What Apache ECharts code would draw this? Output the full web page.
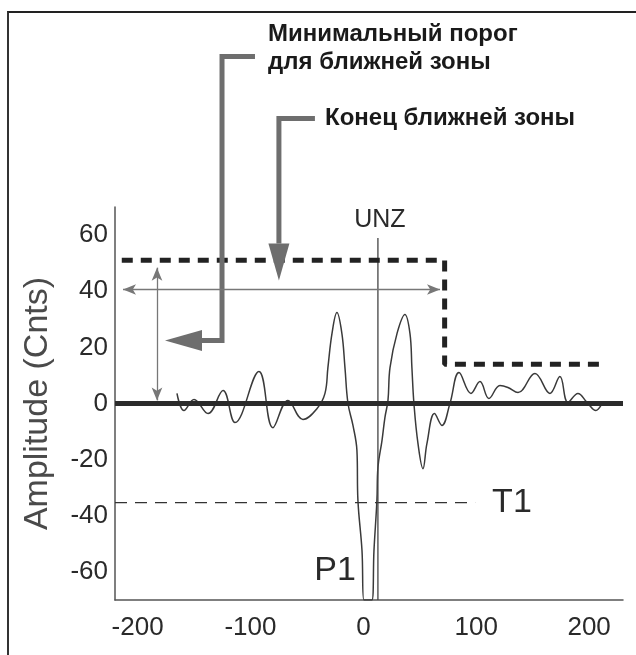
<!DOCTYPE html>
<html>
<head>
<meta charset="utf-8">
<script src="https://cdn.jsdelivr.net/npm/echarts@6/dist/echarts.min.js"></script>
<style>
    html, body { margin: 0; padding: 0; background: #fff; }
    #wrap { position: relative; width: 636px; height: 655px; overflow: hidden; }
    #frame { position: absolute; left: 7px; top: 11px; width: 700px; height: 700px;
             border-top: 2px solid #222; border-left: 2px solid #333; }
    #amplitude-chart { position: absolute; left: 0; top: 0; width: 636px; height: 655px; }
</style>
</head>
<body>
<div id="wrap">
    <div id="frame"></div>
    <div id="amplitude-chart"></div>
</div>
<script>
// tick labels
var xTicks = [-200, -100, 0, 100, 200];
var yTicks = [-60, -40, -20, 0, 20, 40, 60];

// echo signal
var waveX = [-165.1, -158.9, -150.0, -137.6, -124.3, -113.7, -92.5, -80.1, -66.8, -53.5, -41.0, -34.0,
    -31.4, -27.8, -23.4, -19.0, -16.3, -13.6, -9.2, -5.7, -4.8, -1.2, 0.5, 7.6, 9.4, 12.0, 12.9, 16.5,
    19.1, 21.8, 23.6, 29.8, 36.8, 41.3, 43.0, 44.8, 48.4, 52.8, 56.3, 63.0, 69.6, 76.7, 84.7, 95.3,
    103.3, 111.2, 121.0, 128.1, 137.0, 152.0, 165.3, 174.1, 181.2, 190.1, 198.1, 206.0, 210.5];
var waveY = [3.6, -2.5, 1.4, -3.6, 4.6, -6.8, 11.4, -8.6, 1.1, -5.7, -1.8, 3.6,
    12.8, 24.9, 32.4, 24.9, 12.8, 0, -7.8, -16.7, -34.6, -52.4, -70, -70, -52.4, -34.6, -22.8, -13.2,
    -5.0, 1.1, 12.8, 24.9, 31.7, 24.9, 12.8, 0, -14.3, -23.2, -14.3, -3.6, -7.8, 0, 11.0, 3.6,
    7.8, 1.8, 6.4, 5.7, 3.9, 10.7, 3.6, 9.6, 0.4, 3.6, 0.4, -2.5, -0.7];

// near zone threshold (step)
var zoneX = [-214, 72, 72, 211];
var zoneY = [51, 51, 14, 14];

// baseline, T1 threshold, UNZ marker
var baseX = [-220, 230];
var t1X = [-220, 99];
var t1Level = -35.3;
var unzX = 12.9;
var unzY = [-70, 59];

// callout connectors
var call1X = [-96, -125.2, -125.2, -143];
var call1Y = [123.6, 123.6, 22.4, 22.4];
var call2X = [-42.9, -74.8, -74.8];
var call2Y = [101.5, 101.5, 57];
var headPoints = [[-159.3, 22.4, 90], [-74.8, 50.4, 180]];

// dimension arrows
var spanY = 40.6, spanX = [-212.9, 67.9];
var heightX = -182.8, heightY = [1.1, 48.4];

// in-plot labels: text, x, y, font size
var plotLabels = [['P1', -25, -59.5, 34], ['UNZ', 14.7, 65.5, 25]];

var textFont = "'Liberation Sans', Arial, sans-serif";

function pairs(xs, ys) {
    return xs.map(function (x, i) { return [x, ys[i]]; });
}

var amplitudeChart = echarts.init(document.getElementById('amplitude-chart'));

var amplitudeChartOption = {
    animation: false,
    textStyle: { fontFamily: textFont },
    grid: { left: 115, top: 207, right: 13, bottom: 55 },
    xAxis: {
        type: 'value',
        min: -220,
        max: 230,
        interval: 10,
        axisLine: { onZero: false, lineStyle: { color: '#555', width: 1.5 } },
        axisTick: { show: false },
        splitLine: { show: false },
        axisLabel: {
            fontSize: 26,
            color: '#2a2a2a',
            margin: 15,
            formatter: function (v) { return xTicks.indexOf(v) >= 0 ? String(v) : ''; }
        }
    },
    yAxis: {
        type: 'value',
        min: -70,
        max: 70,
        interval: 10,
        name: 'Amplitude (Cnts)',
        nameLocation: 'middle',
        nameGap: 60,
        nameTextStyle: { fontSize: 34, color: '#4a4a4a' },
        axisLine: { show: true, onZero: false, lineStyle: { color: '#555', width: 1.5 } },
        axisTick: { show: false },
        splitLine: { show: false },
        axisLabel: {
            fontSize: 26,
            color: '#2a2a2a',
            margin: 7,
            formatter: function (v) { return yTicks.indexOf(v) >= 0 ? String(v) : ''; }
        }
    },
    graphic: [
        {
            type: 'text', left: 268, top: 20, silent: true,
            style: { text: 'Минимальный порог\nдля ближней зоны', font: 'bold 24px ' + textFont,
                     fill: '#1a1a1a', lineHeight: 28 }
        },
        {
            type: 'text', left: 325, top: 106, silent: true,
            style: { text: 'Конец ближней зоны', font: 'bold 24px ' + textFont, fill: '#1a1a1a' }
        }
    ],
    series: [
        {
            name: 'signal',
            type: 'line',
            data: pairs(waveX, waveY),
            smooth: 0.4,
            symbol: 'none',
            silent: true,
            lineStyle: { color: '#3a3a3a', width: 1.5 },
            z: 2
        },
        {
            name: 'base',
            type: 'line',
            data: baseX.map(function (x) { return [x, 0]; }),
            symbol: 'none',
            silent: true,
            lineStyle: { color: '#2b2b2b', width: 5 },
            z: 3
        },
        {
            name: 'zone',
            type: 'line',
            data: pairs(zoneX, zoneY),
            symbol: 'none',
            silent: true,
            lineStyle: { color: '#222', width: 5, type: [11, 8] },
            z: 3
        },
        {
            name: 'T1',
            type: 'line',
            data: t1X.map(function (x) { return [x, t1Level]; }),
            symbol: 'none',
            silent: true,
            lineStyle: { color: '#333', width: 1.3, type: [12, 8] },
            endLabel: { show: true, formatter: 'T1', fontSize: 34, color: '#2a2a2a', distance: 17 },
            z: 2
        },
        {
            name: 'UNZ',
            type: 'line',
            data: unzY.map(function (y) { return [unzX, y]; }),
            symbol: 'none',
            silent: true,
            lineStyle: { color: '#444', width: 1.3 },
            z: 2
        },
        {
            name: 'callout1',
            type: 'line',
            data: pairs(call1X, call1Y),
            symbol: 'none',
            silent: true,
            clip: false,
            lineStyle: { color: '#6e6e6e', width: 5, cap: 'butt', join: 'miter' },
            z: 4
        },
        {
            name: 'callout2',
            type: 'line',
            data: pairs(call2X, call2Y),
            symbol: 'none',
            silent: true,
            clip: false,
            lineStyle: { color: '#6e6e6e', width: 5, cap: 'butt', join: 'miter' },
            z: 4
        },
        {
            name: 'heads',
            type: 'scatter',
            data: headPoints.map(function (p) { return { value: [p[0], p[1]], symbolRotate: p[2] }; }),
            symbol: 'triangle',
            symbolSize: [21, 37],
            silent: true,
            itemStyle: { color: '#6e6e6e', opacity: 1 },
            z: 5
        },
        {
            name: 'dimensions',
            type: 'line',
            data: [],
            silent: true,
            markLine: {
                silent: true,
                symbol: ['arrow', 'arrow'],
                symbolSize: [8, 13],
                label: { show: false },
                lineStyle: { color: '#777', width: 1.3, type: 'solid' },
                data: [
                    [{ coord: [spanX[0], spanY] }, { coord: [spanX[1], spanY] }],
                    [{ coord: [heightX, heightY[0]] }, { coord: [heightX, heightY[1]] }]
                ]
            },
            z: 3
        },
        {
            name: 'labels',
            type: 'scatter',
            data: plotLabels.map(function (p) {
                return { value: [p[1], p[2]], name: p[0], label: { fontSize: p[3] } };
            }),
            symbolSize: 0,
            silent: true,
            clip: false,
            itemStyle: { opacity: 1 },
            label: { show: true, position: 'inside', formatter: '{b}', color: '#2a2a2a' },
            z: 5
        }
    ]
};

amplitudeChart.setOption(amplitudeChartOption);
</script>
</body>
</html>
